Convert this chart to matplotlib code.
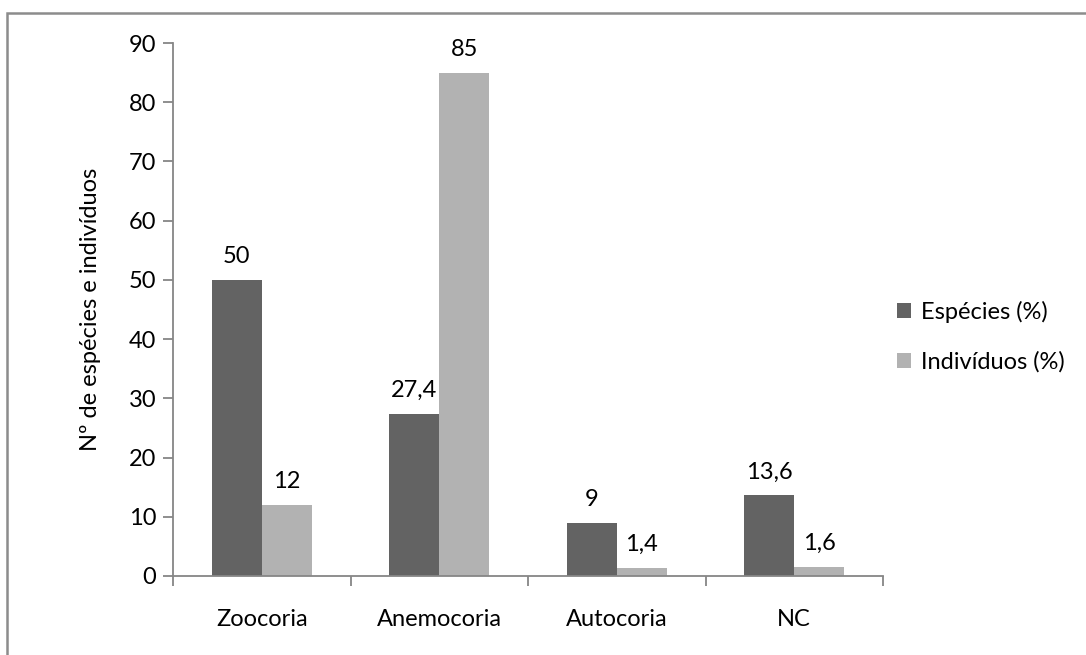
import matplotlib
matplotlib.use("Agg")
import matplotlib.pyplot as plt
import numpy as np
from matplotlib.patches import Rectangle

# dados do grafico
categorias = ["Zoocoria", "Anemocoria", "Autocoria", "NC"]
especies = [50, 27.4, 9, 13.6]
individuos = [12, 85, 1.4, 1.6]
rotulos_esp = ["50", "27,4", "9", "13,6"]
rotulos_ind = ["12", "85", "1,4", "1,6"]
series = ["Espécies (%)", "Indivíduos (%)"]

plt.rcParams['font.family'] = ['Lato', 'DejaVu Sans']
cinza_eixo = "#868686"
fs = 17

fig = plt.figure(figsize=(10.86, 6.55), dpi=100)
ax = fig.add_axes([173/1086, 1-576/655, (883-173)/1086, (576-43)/655])

x = np.arange(len(categorias))
w = 0.282
b1 = ax.bar(x - w/2, especies, w, color="#636363", label=series[0])
b2 = ax.bar(x + w/2, individuos, w, color="#b2b2b2", label=series[1])

for barra, txt in zip(b1, rotulos_esp):
    ax.annotate(txt, (barra.get_x() + barra.get_width()/2, barra.get_height()),
                xytext=(0, 9), textcoords="offset points", ha="center", va="bottom", fontsize=fs)
for barra, txt in zip(b2, rotulos_ind):
    ax.annotate(txt, (barra.get_x() + barra.get_width()/2, barra.get_height()),
                xytext=(0, 9), textcoords="offset points", ha="center", va="bottom", fontsize=fs)

ax.set_xlim(-0.5, len(categorias) - 0.5)
ax.set_ylim(0, 90)
ax.set_yticks(range(0, 91, 10))
ax.set_xticks(x)
ax.set_xticklabels(categorias, fontsize=fs)
ax.set_xticks(np.arange(-0.5, len(categorias)), minor=True)
ax.tick_params(axis="x", which="major", length=0, pad=24)
ax.tick_params(axis="x", which="minor", length=7, color=cinza_eixo, width=1.3, direction="out")
ax.tick_params(axis="y", labelsize=fs, length=7, color=cinza_eixo, width=1.3, pad=5)

for lado in ["top", "right"]:
    ax.spines[lado].set_visible(False)
for lado in ["left", "bottom"]:
    ax.spines[lado].set_color(cinza_eixo)
    ax.spines[lado].set_linewidth(1.3)

ax.set_ylabel("Nº de espécies e indivíduos", fontsize=fs, labelpad=20)

fig.legend(handles=[b1, b2], labels=series, loc="center left",
           bbox_to_anchor=(876/1086, 1-337/655), frameon=False, fontsize=fs,
           handlelength=0.6, handleheight=0.6, handletextpad=0.4, labelspacing=1.2)

# borda do grafico (estilo Excel)
fig.patches.append(Rectangle((7/1086, -0.1), 1.2, 1-13/655 + 0.1, transform=fig.transFigure,
                             fill=False, edgecolor="#8c8c8c", linewidth=1.8))

fig.savefig("out.png", dpi=100)
